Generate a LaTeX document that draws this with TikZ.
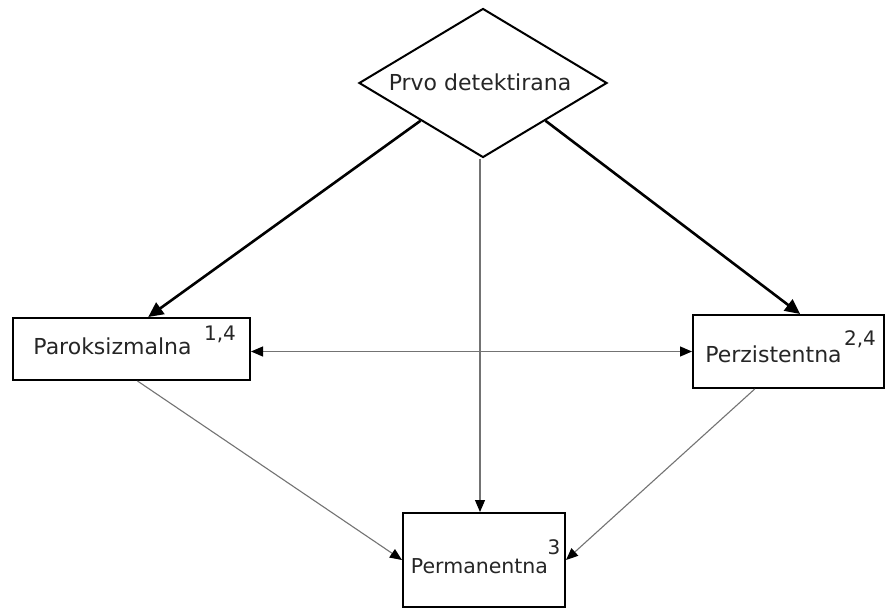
\documentclass[tikz,border=0pt]{standalone}
\usepackage{fontspec}
\setmainfont{DejaVu Sans}
\usetikzlibrary{shapes.geometric,arrows.meta,calc}
\begin{document}
\begin{tikzpicture}[x=1pt,y=-1pt,
  boxnode/.style={draw=black,line width=2pt,inner sep=0pt,fill=white},
  lbl/.style={inner sep=0pt,anchor=base,text=black!85,font=\fontsize{22}{24}\selectfont},
  suplbl/.style={inner sep=0pt,anchor=base,text=black!85,font=\fontsize{20}{22}\selectfont},
  thickarr/.style={line width=2.6pt,-{Triangle[length=15pt,width=14pt]}},
  thinarr/.style={line width=1.1pt,draw=black!55,-{Triangle[length=12pt,width=10pt,fill=black,color=black]}},
  dblarr/.style={line width=1.1pt,draw=black!55,{Triangle[length=12pt,width=10pt,fill=black,color=black]}-{Triangle[length=12pt,width=10pt,fill=black,color=black]}}
]
\useasboundingbox (0,0) rectangle (889,610);
\fill[white] (0,0) rectangle (889,610);
% nodes
\node[diamond,boxnode,minimum width=248pt,minimum height=149pt] (dia) at (483,83) {};
\node[lbl] (diatxt) at (480,90) {Prvo detektirana};
\node[boxnode,minimum width=237pt,minimum height=62pt] (par) at (131.5,349) {};
\node[lbl] (partxt) at (112.5,354) {Paroksizmalna};
\node[suplbl] (parsup) at (220,340) {1,4};
\node[boxnode,minimum width=191pt,minimum height=73pt] (per) at (788.5,351.5) {};
\node[lbl] (pertxt) at (773.5,362) {Perzistentna};
\node[suplbl] (persup) at (860,345) {2,4};
\node[boxnode,minimum width=162pt,minimum height=94pt] (perm) at (484,560) {};
\node[lbl,font=\fontsize{20.5}{22}\selectfont] (permtxt) at (479.5,573) {Permanentna};
\node[suplbl] (permsup) at (554,554) {3};
% connectors
\draw[thickarr] (dia.south west) -- ($(par.north west)!0.57!(par.north east)$);
\draw[thickarr] (dia.south east) -- ($(per.north west)!0.56!(per.north east)$);
\draw[thinarr] ($(dia.south)+(-3,0)$) -- ($(dia.south |- perm.north)+(-3,0)$);
\draw[dblarr] (par.east |- per.west) -- (per.west);
\draw[thinarr] ($(par.south west)!0.525!(par.south east)$) -- (perm.west);
\draw[thinarr] ($(per.south west)!0.325!(per.south east)$) -- (perm.east);
\end{tikzpicture}
\end{document}
